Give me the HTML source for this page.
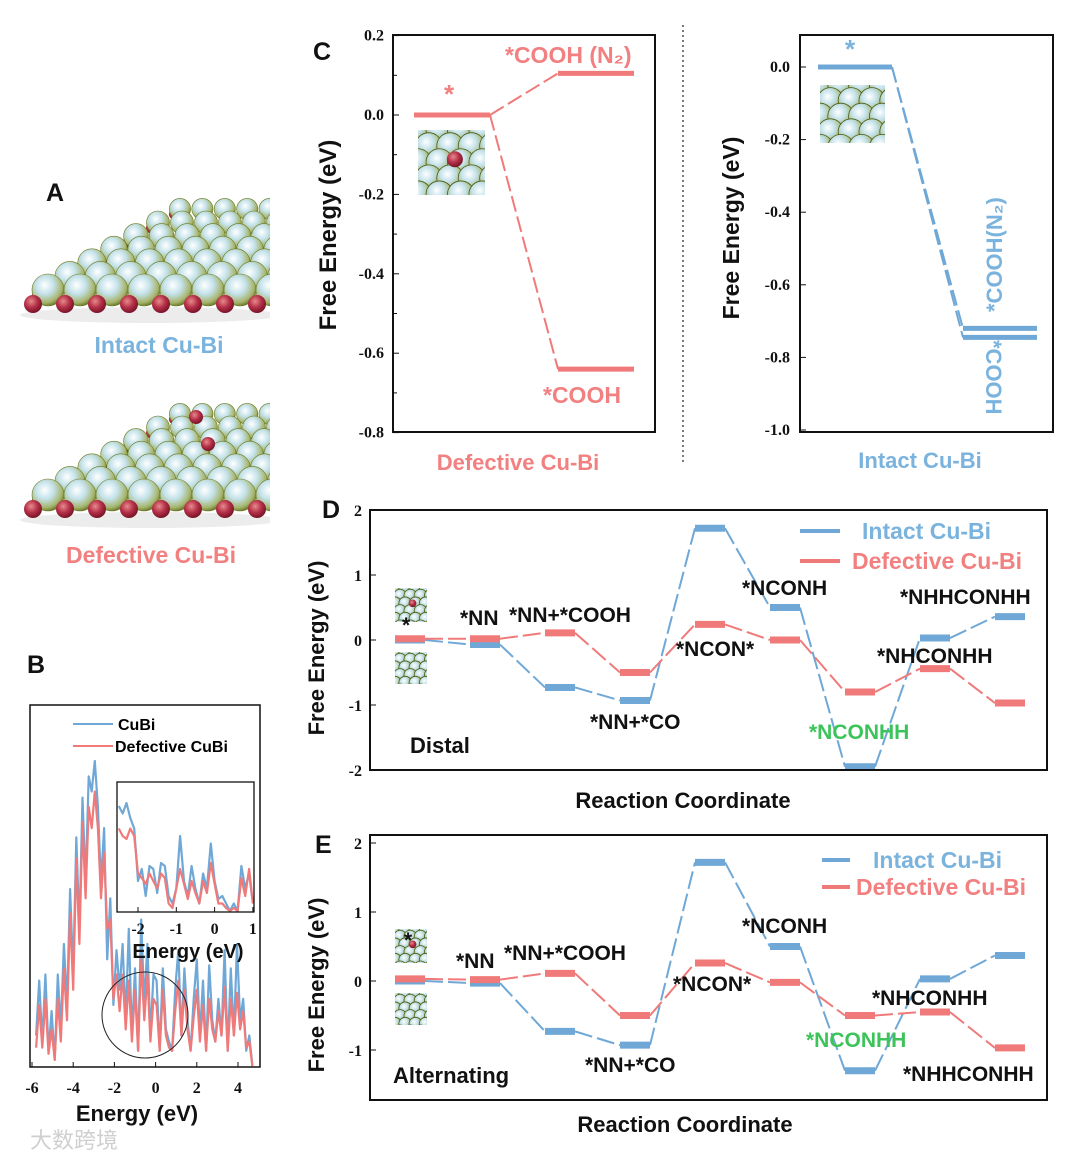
<!DOCTYPE html>
<html><head><meta charset="utf-8"><style>
html,body{margin:0;padding:0;background:#fff;}
svg{display:block;font-family:"Liberation Sans",Arial,sans-serif;}
.tk{font-family:"Liberation Serif",serif;font-weight:bold;font-size:16px;fill:#111;}
.lb{font-family:"Liberation Sans Narrow","Liberation Sans",sans-serif;font-weight:bold;font-size:21px;fill:#111;}
.ti{font-weight:bold;font-size:22px;fill:#111;}
.pl{font-weight:bold;font-size:25px;fill:#111;}
</style></head><body>
<svg id="fig" width="1080" height="1161" viewBox="0 0 1080 1161" xmlns="http://www.w3.org/2000/svg">
<defs>
<radialGradient id="sph" cx="0.4" cy="0.35" r="0.7">
<stop offset="0" stop-color="#ffffff"/><stop offset="0.4" stop-color="#c4e2ea"/><stop offset="0.78" stop-color="#a6b46a"/><stop offset="1" stop-color="#56661a"/></radialGradient>
<radialGradient id="red" cx="0.4" cy="0.35" r="0.7">
<stop offset="0" stop-color="#e78a8a"/><stop offset="0.5" stop-color="#b5304a"/><stop offset="1" stop-color="#6e1020"/></radialGradient>
<clipPath id="clipA"><rect x="20" y="150" width="250" height="450"/></clipPath>
</defs>
<g id="root"></g>
</svg>
<script>
// ---------- data ----------
const dosEnergyStart = -5.8, dosEnergyStep = 0.15;
const dosCuBi = [0.1,0.28,0.08,0.3,0.05,0.18,0.02,0.3,0.12,0.4,0.2,0.58,0.3,0.75,0.45,0.88,0.6,0.95,0.9,1.0,0.85,0.6,0.78,0.35,0.55,0.2,0.38,0.25,0.4,0.15,0.45,0.1,0.32,0.05,0.48,0.2,0.4,0.1,0.3,0.28,0.05,0.32,0.12,0.08,0.05,0.25,0.38,0.1,0.32,0.15,0.05,0.22,0.35,0.1,0.28,0.05,0.33,0.15,0.08,0.22,0.1,0.38,0.05,0.32,0.1,0.4,0.15,0.22,0.05,0.1,0.0];
const dosDefective = [0.06,0.2,0.06,0.22,0.04,0.12,0.02,0.22,0.08,0.32,0.15,0.5,0.25,0.68,0.4,0.8,0.55,0.85,0.78,0.9,0.78,0.55,0.7,0.45,0.48,0.22,0.3,0.18,0.3,0.12,0.28,0.08,0.25,0.05,0.35,0.15,0.3,0.08,0.22,0.2,0.05,0.25,0.1,0.06,0.05,0.18,0.28,0.1,0.25,0.12,0.05,0.16,0.25,0.08,0.2,0.05,0.22,0.12,0.08,0.18,0.1,0.26,0.05,0.22,0.1,0.24,0.12,0.18,0.06,0.08,0.0];
const insetEnergyStart = -2.5, insetEnergyStep = 0.1;
const insetCuBi = [0.7,0.65,0.72,0.62,0.55,0.2,0.28,0.1,0.3,0.28,0.12,0.32,0.3,0.1,0.05,0.15,0.5,0.2,0.1,0.3,0.15,0.05,0.25,0.15,0.45,0.2,0.08,0.1,0.05,0.0,0.05,0.0,0.3,0.15,0.25,0.05];
const insetDefective = [0.55,0.5,0.48,0.55,0.5,0.25,0.22,0.18,0.25,0.2,0.15,0.25,0.22,0.05,0.02,0.15,0.28,0.18,0.08,0.2,0.12,0.05,0.2,0.12,0.32,0.18,0.05,0.05,0.02,0.0,0.02,0.0,0.22,0.1,0.28,0.05];

const cLeftLevels = [0, 0.105, -0.64];
const cLeftSlots = [0, 1, 1];
const cRightLevels = [0, -0.72, -0.745];
const cRightSlots = [0, 1, 1];

const dIntact = [0, -0.07, -0.73, -0.93, 1.72, 0.5, -1.95, 0.03, 0.36];
const dDefective = [0.02, 0.02, 0.11, -0.5, 0.24, 0.0, -0.8, -0.44, -0.97];
const eIntact = [0, -0.03, -0.73, -0.93, 1.72, 0.5, -1.3, 0.03, 0.37];
const eDefective = [0.03, 0.02, 0.11, -0.5, 0.26, -0.02, -0.5, -0.45, -0.97];
const dTicks = [2, 1, 0, -1, -2];
const eTicks = [2, 1, 0, -1];
const cLeftTicks = ["0.2","0.0","-0.2","-0.4","-0.6","-0.8"];
const cRightTicks = ["0.0","-0.2","-0.4","-0.6","-0.8","-1.0"];
const dosTicks = [-6,-4,-2,0,2,4];
const insetTicks = [-2,-1,0,1];

// ---------- helpers ----------
const NS="http://www.w3.org/2000/svg";
const root=document.getElementById('root');
function mk(tag,attrs,parent,txt){const e=document.createElementNS(NS,tag);for(const k in attrs)e.setAttribute(k,attrs[k]);if(txt!==undefined)e.textContent=txt;(parent||root).appendChild(e);return e;}
function T(x,y,s,cls,extra,name){
  extra=Object.assign({},extra||{});
  let style='';
  if(extra.fill){style+='fill:'+extra.fill+';';delete extra.fill;}
  if(extra['font-size']){style+='font-size:'+extra['font-size']+';';delete extra['font-size'];}
  const e=mk('text',Object.assign({x:x,y:y,class:cls||''},extra),root,s);
  if(style)e.setAttribute('style',style);
  
  
  return e;}
const BLUE="#6fa8d6", RED="#f07a7a", BLUET="#7ab3dd", REDT="#f28080";

// ---------- panel A: slabs ----------
function slab(oy, defect){
  const g=mk('g',{'clip-path':'url(#clipA)'});
  
  
  mk('ellipse',{cx:150,cy:oy+25,rx:130,ry:8,fill:'#ececec'},g);
  for(let r=6;r>=0;r--){
    const y=oy-r*13.5, x0=48+r*22, sp=32-r*1.6, rad=16-r*0.9;
    mk('circle',{cx:x0-rad*0.6,cy:y+rad*0.5,r:rad*0.45,fill:'url(#red)'},g);
    for(let x=x0;x<290;x+=sp){mk('circle',{cx:x,cy:y,r:rad,fill:'url(#sph)',stroke:'#6b7a20','stroke-width':0.6},g);}
  }
  for(let x=48;x<290;x+=32){mk('circle',{cx:x-15,cy:oy+14,r:9,fill:'url(#red)'},g);}
  if(defect){mk('circle',{cx:196,cy:oy-78,r:7,fill:'url(#red)'},g);mk('circle',{cx:208,cy:oy-51,r:7,fill:'url(#red)'},g);}
}
slab(290,false); slab(495,true);
T(46,201,"A","pl",{},'panel-a-label');
T(159,353,"Intact Cu-Bi","ti",{fill:BLUET,'text-anchor':'middle','font-size':'23px'},'intact-caption');
T(151,563,"Defective Cu-Bi","ti",{fill:REDT,'text-anchor':'middle','font-size':'23px'},'defective-caption');

// thumbnail
function thumb(x,y,w,h,defect,name){
  const g=mk('g',{});
  
  
  mk('rect',{x:x,y:y,width:w,height:h,fill:'#6b7a3a'},g);
  const cid='c'+Math.round(x)+'_'+Math.round(y);
  const cp=mk('clipPath',{id:cid},g);mk('rect',{x:x,y:y,width:w,height:h},cp);
  const gg=mk('g',{'clip-path':'url(#'+cid+')'},g);
  const r=w/5;
  for(let j=0;j<=h/(r*1.2)+1;j++)for(let i=0;i<=6;i++){
    mk('circle',{cx:x+i*r*1.6+(j%2)*r*0.8,cy:y+j*r*1.2,r:r,fill:'url(#sph)',stroke:'#4a5a10','stroke-width':0.8},gg);}
  if(defect)mk('circle',{cx:x+w*0.55,cy:y+h*0.45,r:r*0.6,fill:'url(#red)'},gg);
}

// ---------- panel B: DOS ----------
(function(){
  const L=30,R=260,Tp=705,B=1067;
  const xs=v=>32+(v+6)*20.6, ys=v=>B-1-v*305;
  const g=mk('g',{});
  
  
  function poly(arr,st,step,xf,yf,col,name){
    let d=arr.map((v,i)=>(i?'L':'M')+xf(st+i*step).toFixed(1)+','+yf(v).toFixed(1)).join('');
    const p=mk('path',{d:d,fill:'none',stroke:col,'stroke-width':2.2,'stroke-linejoin':'round'},g);
    
    
  }
  poly(dosCuBi,dosEnergyStart,dosEnergyStep,xs,ys,BLUE,'cubi-dos-line');
  poly(dosDefective,dosEnergyStart,dosEnergyStep,xs,ys,RED,'defective-dos-line');
  mk('rect',{x:L,y:Tp,width:R-L,height:B-Tp,fill:'none',stroke:'#111','stroke-width':1.5},g);
  dosTicks.forEach(t=>{mk('line',{x1:xs(t),x2:xs(t),y1:B,y2:B-5,stroke:'#111'},g);T(xs(t),1093,String(t),'tk',{'text-anchor':'middle'},'dos-x-tick');});
  T(137,1121,"Energy (eV)","ti",{'text-anchor':'middle'},'dos-x-title');
  T(27,673,"B","pl",{},'panel-b-label');
  mk('line',{x1:73,x2:113,y1:724,y2:724,stroke:BLUE,'stroke-width':2},g);
  mk('line',{x1:73,x2:113,y1:746,y2:746,stroke:RED,'stroke-width':2},g);
  T(118,730,"CuBi","",{'font-weight':'bold','font-size':'16px'},'legend-cubi');
  T(115,752,"Defective CuBi","",{'font-weight':'bold','font-size':'16px'},'legend-defective-cubi');
  mk('circle',{cx:145,cy:1015,r:43,fill:'none',stroke:'#222','stroke-width':1},g);
  // inset
  const ix=v=>138+(v+2)*38.3, iy=v=>911-v*150;
  mk('rect',{x:117,y:782,width:137,height:130,fill:'#fff',stroke:'none'},g);
  poly(insetCuBi,insetEnergyStart,insetEnergyStep,ix,iy,BLUE,'inset-cubi-line');
  poly(insetDefective,insetEnergyStart,insetEnergyStep,ix,iy,RED,'inset-defective-line');
  mk('rect',{x:117,y:782,width:137,height:130,fill:'none',stroke:'#111','stroke-width':1.3},g);
  insetTicks.forEach(t=>{mk('line',{x1:ix(t),x2:ix(t),y1:912,y2:907,stroke:'#111'},g);T(ix(t),934,String(t),'tk',{'text-anchor':'middle'},'inset-x-tick');});
  T(188,958,"Energy (eV)","ti",{'text-anchor':'middle','font-size':'20px'},'inset-x-title');
})();
T(30,1148,"大数跨境","",{fill:'#cfcfcf','font-size':'22px','font-family':'"Noto Sans CJK SC",sans-serif'},'watermark');

// ---------- energy diagram helper ----------
function levels(g,vals,slots,xc,hw,ys,col,th,dash,name){
  for(let i=1;i<vals.length;i++){
    const from = slots? vals.findIndex((v,k)=>slots[k]===slots[i]-1) : i-1;
    const xa=xc(slots?slots[from]:from)+hw, xb=xc(slots?slots[i]:i)-hw;
    const l=mk('line',{x1:xa,y1:ys(vals[from]),x2:xb,y2:ys(vals[i]),stroke:col,'stroke-width':2,'stroke-dasharray':dash},g);
    
    
  }
  vals.forEach((v,i)=>{
    const x=xc(slots?slots[i]:i);
    const l=mk('line',{x1:x-hw,y1:ys(v),x2:x+hw,y2:ys(v),stroke:col,'stroke-width':th},g);
    
    
  });
}

// ---------- panel C ----------
(function(){
  const g=mk('g',{});
  
  
  const ysL=v=>115-v*397, xcL=s=>452+s*144;
  levels(g,cLeftLevels,cLeftSlots,xcL,38,ysL,RED,5,'16,5','defective-c');
  mk('rect',{x:393,y:35,width:262,height:397,fill:'none',stroke:'#111','stroke-width':2},g);
  cLeftTicks.forEach((t,i)=>{const y=ysL(0.2-0.2*i);mk('line',{x1:393,x2:399,y1:y,y2:y,stroke:'#111'},g);if(i<5)mk('line',{x1:393,x2:397,y1:y+39.7,y2:y+39.7,stroke:'#111'},g);T(384,y+5,t,'tk',{'text-anchor':'end'},'c-left-y-tick');});
  T(313,60,"C","pl",{},'panel-c-label');
  T(0,0,"Free Energy (eV)","ti",{transform:'translate(336,235) rotate(-90)','text-anchor':'middle','font-size':'24px'},'c-left-y-title');
  T(444,103,"*","ti",{fill:REDT,'font-size':'26px'},'c-star');
  T(505,63,"*COOH (N₂)","ti",{fill:REDT,'font-size':'23px'},'c-cooh-n2');
  T(543,403,"*COOH","ti",{fill:REDT,'font-size':'23px'},'c-cooh');
  T(518,470,"Defective Cu-Bi","ti",{fill:REDT,'text-anchor':'middle'},'c-left-x-title');
  thumb(418,130,67,65,true,'defective-thumbnail');
  mk('line',{x1:683,x2:683,y1:25,y2:465,stroke:'#333','stroke-width':1.3,'stroke-dasharray':'2,3'},g);
  const ysR=v=>67-v*363, xcR=s=>855+s*145;
  levels(g,cRightLevels,cRightSlots,xcR,37,ysR,BLUE,5,'16,5','intact-c');
  mk('rect',{x:800,y:35,width:253,height:397,fill:'none',stroke:'#111','stroke-width':2},g);
  cRightTicks.forEach((t,i)=>{const y=ysR(-0.2*i);mk('line',{x1:800,x2:806,y1:y,y2:y,stroke:'#111'},g);T(790,y+5,t,'tk',{'text-anchor':'end'},'c-right-y-tick');});
  T(0,0,"Free Energy (eV)","ti",{transform:'translate(739,228) rotate(-90)','text-anchor':'middle','font-size':'23px'},'c-right-y-title');
  T(845,58,"*","ti",{fill:BLUET,'font-size':'26px'},'c-right-star');
  T(0,0,"*COOH(N₂)","ti",{transform:'translate(1002,312) rotate(-90)',fill:BLUET},'c-right-cooh-n2');
  T(0,0,"*COOH","ti",{transform:'translate(986,340) rotate(90)',fill:BLUET},'c-right-cooh');
  T(920,468,"Intact Cu-Bi","ti",{fill:BLUET,'text-anchor':'middle'},'c-right-x-title');
  thumb(820,85,65,58,false,'intact-thumbnail');
})();

// ---------- panels D and E ----------
function reaction(opts){
  const g=mk('g',{});
  
  
  const ys=v=>opts.y0-v*opts.k, xc=i=>410+i*75;
  levels(g,opts.intact,null,xc,15,ys,BLUE,7,'18,5','intact-'+opts.name);
  levels(g,opts.defective,null,xc,15,ys,RED,7,'18,5','defective-'+opts.name);
  mk('rect',{x:370,y:opts.top,width:677,height:opts.bot-opts.top,fill:'none',stroke:'#111','stroke-width':2},g);
  opts.ticks.forEach(t=>{const y=ys(t);mk('line',{x1:370,x2:376,y1:y,y2:y,stroke:'#111'},g);T(362,y+6,String(t),'tk',{'text-anchor':'end'},'y-tick');});
  thumb(395,opts.y0-52,32,34,true,'thumb-top');
  thumb(395,opts.y0+12,32,32,false,'thumb-bottom');
}
reaction({name:'panel-d',intact:dIntact,defective:dDefective,y0:640,k:65,top:510,bot:770,ticks:dTicks});
reaction({name:'panel-e',intact:eIntact,defective:eDefective,y0:981,k:69,top:835,bot:1100,ticks:eTicks});

function legend(y1,y2,lx,tx1,tx2){
  const a=mk('line',{x1:lx[0],x2:lx[1],y1:y1,y2:y1,stroke:BLUE,'stroke-width':4});
  
  
  const b=mk('line',{x1:lx[0],x2:lx[1],y1:y2,y2:y2,stroke:RED,'stroke-width':4});
  
  
  T(tx1,y1+8,"Intact Cu-Bi","ti",{fill:BLUET,'font-size':'23px'},'legend-intact');
  T(tx2,y2+8,"Defective Cu-Bi","ti",{fill:REDT,'font-size':'23px'},'legend-defective');
}
legend(531,561,[800,840],862,852);
legend(860,887,[822,850],873,856);

T(322,518,"D","pl",{},'panel-d-label');
T(0,0,"Free Energy (eV)","ti",{transform:'translate(324,648) rotate(-90)','text-anchor':'middle'},'d-y-title');
T(683,808,"Reaction Coordinate","ti",{'text-anchor':'middle'},'d-x-title');
[["*",402,632],["*NN",460,625],["*NN+*COOH",509,622],["*NCONH",742,595],["*NHHCONHH",900,604],["*NCON*",676,656],["*NHCONHH",877,663],["*NN+*CO",590,729],["Distal",410,753]].forEach(a=>T(a[1],a[2],a[0],'lb',a[0]==="Distal"?{'font-size':'22px'}:{},'d-state-label'));
T(809,739,"*NCONHH","lb",{fill:'#3cc45a'},'d-green-label');
T(315,853,"E","pl",{},'panel-e-label');
T(0,0,"Free Energy (eV)","ti",{transform:'translate(324,985) rotate(-90)','text-anchor':'middle'},'e-y-title');
T(685,1132,"Reaction Coordinate","ti",{'text-anchor':'middle'},'e-x-title');
[["*",404,947],["*NN",456,968],["*NN+*COOH",504,960],["*NCONH",742,933],["*NCON*",673,991],["*NHCONHH",872,1005],["*NN+*CO",585,1072],["*NHHCONHH",903,1081],["Alternating",393,1083]].forEach(a=>T(a[1],a[2],a[0],'lb',a[0]==="Alternating"?{'font-size':'22px'}:{},'e-state-label'));
T(806,1047,"*NCONHH","lb",{fill:'#3cc45a'},'e-green-label');
</script>
</body></html>
